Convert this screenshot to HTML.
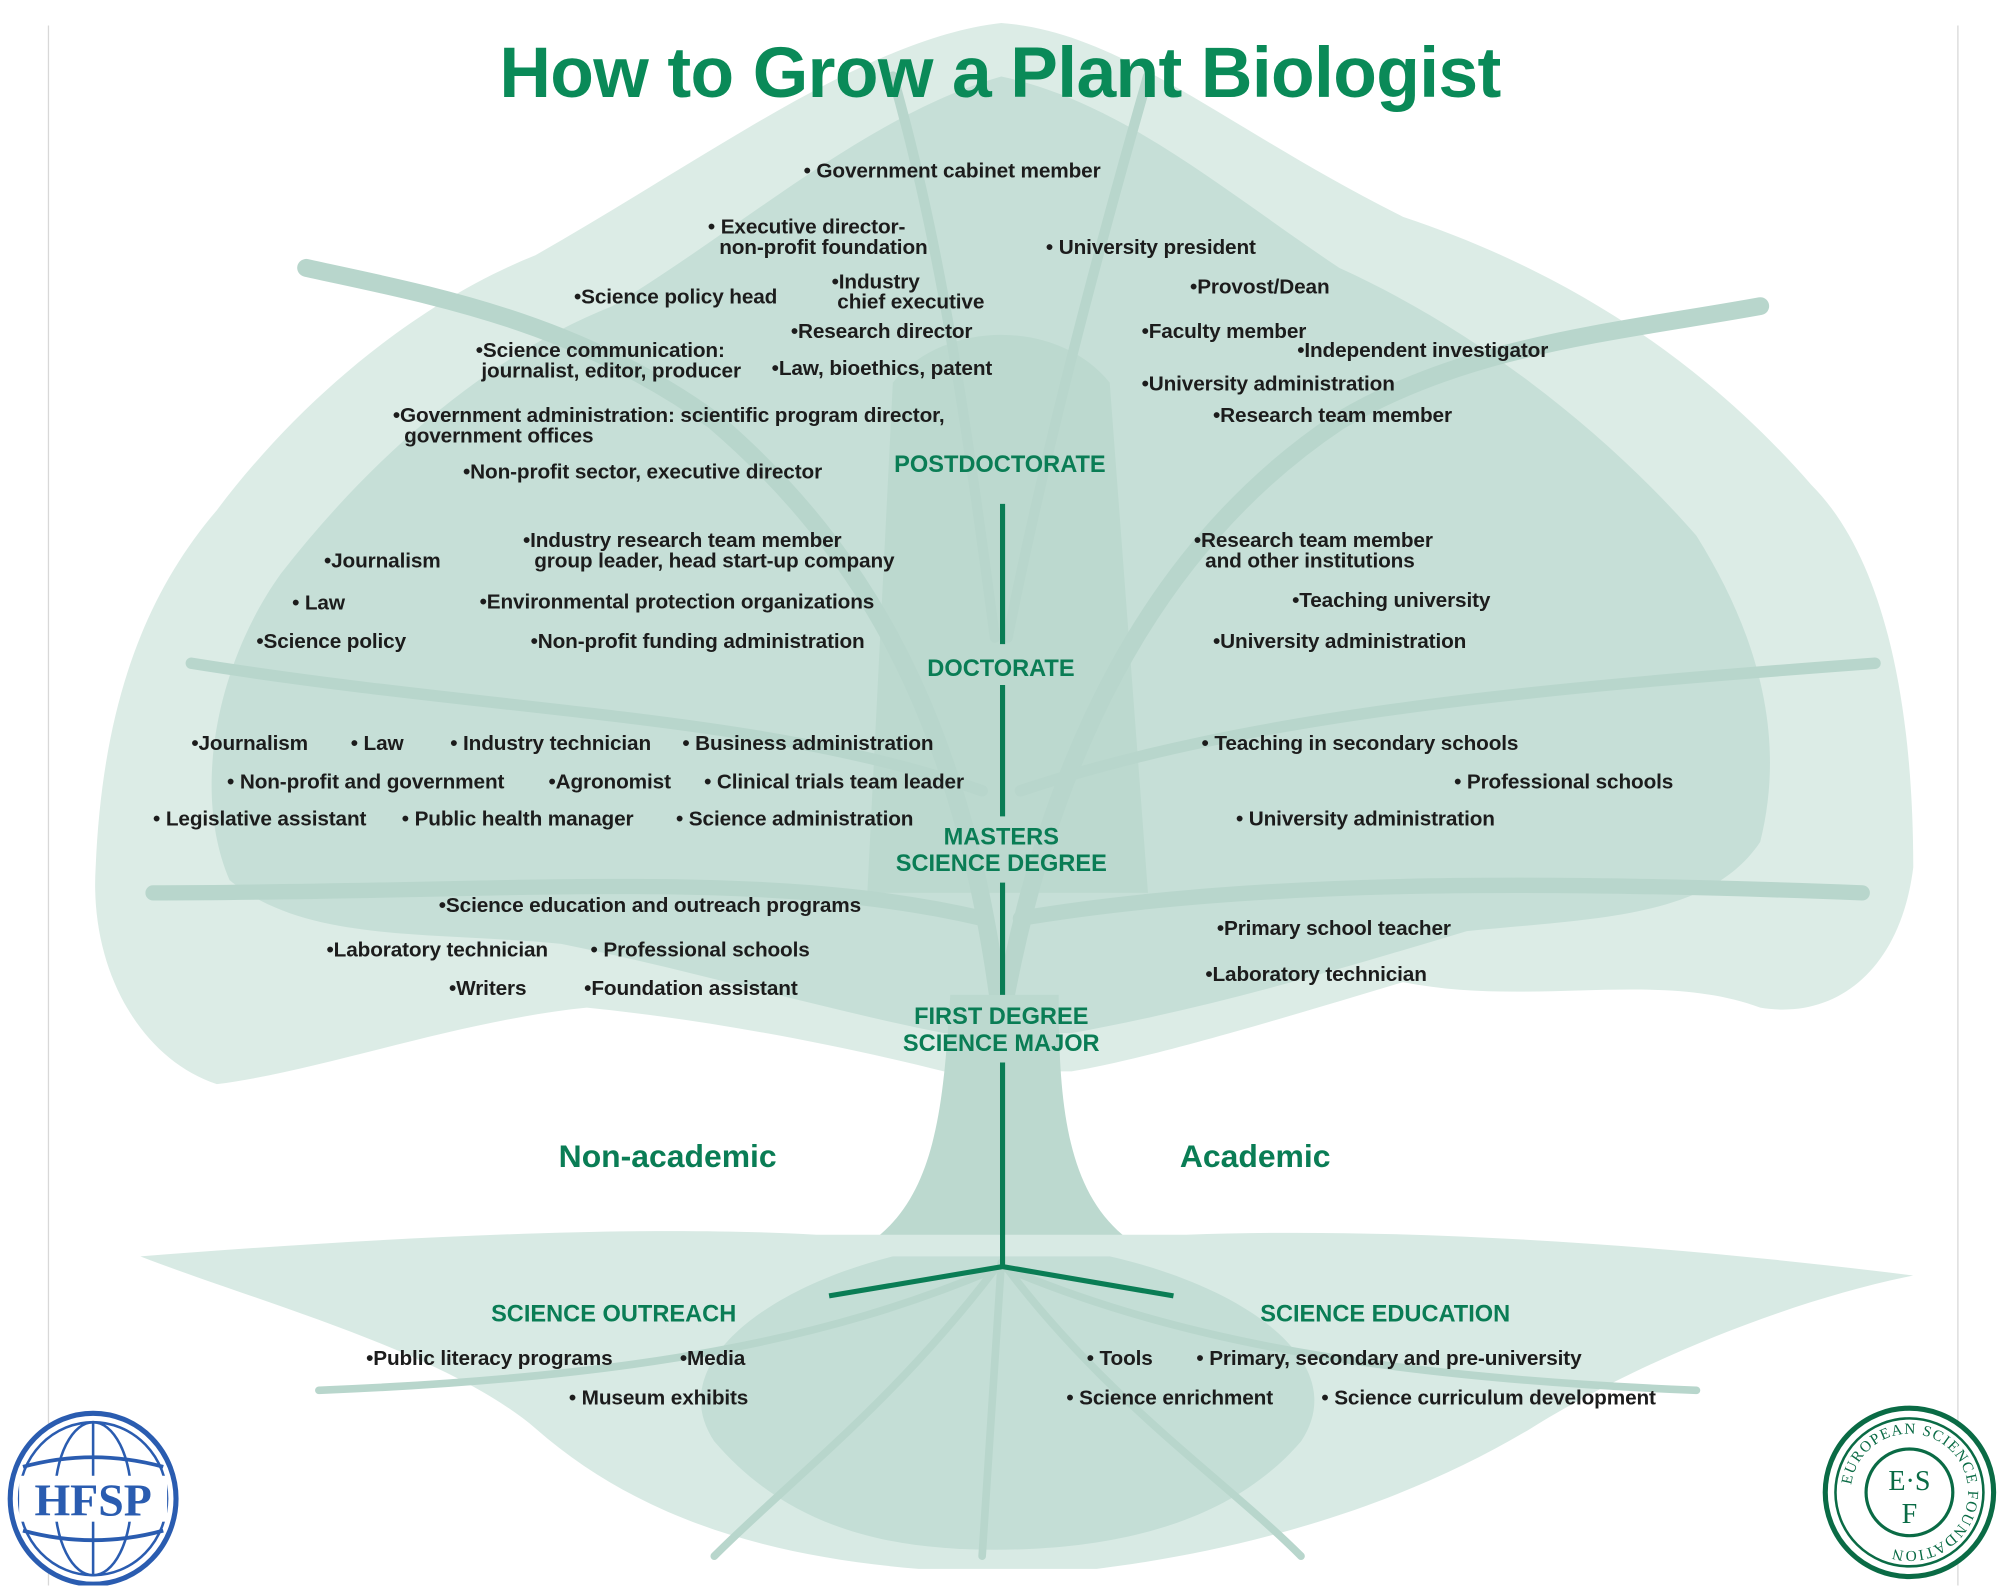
<!DOCTYPE html>
<html><head><meta charset="utf-8"><style>
html,body{margin:0;padding:0;background:#fff;}
body{width:2000px;height:1586px;overflow:hidden;position:relative;}
#w{position:absolute;left:0;top:0;width:1568px;height:1243px;transform:scale(1.27551);transform-origin:0 0;font-family:"Liberation Sans",sans-serif;}
.t{position:absolute;font-size:16.3px;font-weight:bold;color:#1c1c1c;white-space:nowrap;line-height:16px;letter-spacing:-0.1px;}
.g{position:absolute;font-size:18.5px;font-weight:bold;color:#0a7d55;white-space:nowrap;line-height:21px;text-align:center;}
svg{position:absolute;left:0;top:0;}
</style></head><body><div id="w">
<svg width="1568" height="1243" viewBox="0 0 1568 1243">
<line x1="38" y1="20" x2="38" y2="1243" stroke="#d8d8d8" stroke-width="1"/>
<line x1="1535" y1="20" x2="1535" y2="1243" stroke="#d8d8d8" stroke-width="1"/>
<path d="M785 18 C880 25 960 100 1100 170 C1250 220 1350 300 1420 380 C1480 440 1500 560 1500 680 C1490 760 1440 800 1380 790 C1300 760 1200 790 1100 770 C1000 800 900 830 840 840 L740 840 C660 820 560 800 460 790 C360 800 250 840 170 850 C110 830 70 760 75 680 C80 560 110 470 170 400 C230 320 320 240 420 200 C560 120 680 30 785 18 Z" fill="#dcece6"/>
<path d="M785 60 C880 80 960 150 1050 210 C1160 260 1260 340 1330 420 C1380 500 1400 580 1380 660 C1340 720 1250 720 1150 730 C1050 760 950 790 840 810 L740 810 C640 790 540 760 440 740 C340 730 240 740 180 690 C150 620 170 520 220 450 C290 360 380 280 480 240 C580 180 680 90 785 60 Z" fill="#c6dfd7"/>
<path d="M700 300 C740 250 830 250 870 300 L900 700 L680 700 Z" fill="#bcd9cf"/>
<g stroke="#b8d6cc" stroke-linecap="round" fill="none">
<path d="M785 800 C760 600 700 450 560 330 C450 250 330 230 240 210" stroke-width="14"/>
<path d="M785 800 C820 600 900 430 1050 330 C1150 270 1270 260 1380 240" stroke-width="14"/>
<path d="M770 720 C600 680 400 700 120 700" stroke-width="12"/>
<path d="M800 720 C980 690 1200 690 1460 700" stroke-width="12"/>
<path d="M770 620 C600 560 400 560 150 520" stroke-width="9"/>
<path d="M800 620 C980 560 1200 540 1470 520" stroke-width="9"/>
<path d="M780 500 C760 350 740 200 700 60" stroke-width="8"/>
<path d="M790 500 C820 350 860 200 900 60" stroke-width="8"/>
</g>
<path d="M745 780 L830 780 C830 860 835 930 880 968 C900 985 860 990 785 990 C710 990 670 985 690 968 C735 930 740 860 745 780 Z" fill="#bcd9cf"/>
<path d="M640 968 C500 960 300 970 110 985 C200 1020 350 1060 420 1120 C500 1190 600 1220 720 1230 L860 1230 C980 1215 1100 1180 1200 1120 C1280 1070 1400 1020 1500 1000 C1300 975 1100 962 930 968 Z" fill="#d8eae4"/>
<path d="M700 985 C600 1010 520 1070 560 1130 C620 1200 700 1215 780 1215 C860 1215 960 1200 1020 1130 C1060 1070 980 1010 870 985 Z" fill="#c4ded6"/>
<g stroke="#b8d6cc" stroke-width="6" fill="none" stroke-linecap="round">
<path d="M785 990 L770 1220"/><path d="M780 995 C650 1050 500 1080 250 1090"/><path d="M790 995 C920 1050 1080 1080 1330 1090"/><path d="M780 995 C700 1100 620 1160 560 1220"/><path d="M790 995 C870 1100 960 1160 1020 1220"/>
</g>
<g stroke="#0a7d55" stroke-width="4" fill="none">
<line x1="786" y1="395" x2="786" y2="505"/>
<line x1="786" y1="537" x2="786" y2="640"/>
<line x1="786" y1="692" x2="786" y2="780"/>
<line x1="786" y1="833" x2="786" y2="993"/>
<polyline points="650,1016 786,993 920,1016"/>
</g>
<g transform="translate(73,1175)">
<ellipse cx="0" cy="0" rx="65" ry="67" fill="#fff" stroke="#2a5cb0" stroke-width="4"/>
<ellipse cx="0" cy="0" rx="58" ry="60" fill="none" stroke="#2a5cb0" stroke-width="2"/>
<ellipse cx="0" cy="0" rx="30" ry="60" fill="none" stroke="#2a5cb0" stroke-width="2"/>
<line x1="0" y1="-60" x2="0" y2="60" stroke="#2a5cb0" stroke-width="2"/>
<path d="M-55 -25 Q0 -40 55 -25 M-55 25 Q0 40 55 25" stroke="#2a5cb0" stroke-width="3" fill="none"/>
<rect x="-58" y="-18" width="116" height="36" fill="#fff"/>
<text x="0" y="13" text-anchor="middle" font-family="Liberation Serif" font-weight="bold" font-size="36" fill="#2a5cb0">HFSP</text>
</g>
<g transform="translate(1497,1170)">
<circle r="66" fill="#fff" stroke="#0a6b45" stroke-width="4"/>
<circle r="58" fill="none" stroke="#0a6b45" stroke-width="2"/>
<circle r="34" fill="none" stroke="#0a6b45" stroke-width="2.5"/>
<defs><path id="arc" d="M-46 0 A46 46 0 1 1 46 0 A46 46 0 1 1 -46 0"/></defs>
<text font-family="Liberation Serif" font-size="12" fill="#0a6b45" letter-spacing="1"><textPath href="#arc" startOffset="2%">EUROPEAN  SCIENCE FOUNDATION</textPath></text>
<text x="0" y="-2" text-anchor="middle" font-family="Liberation Serif" font-size="22" fill="#0a6b45">E·S</text>
<text x="0" y="24" text-anchor="middle" font-family="Liberation Serif" font-size="22" fill="#0a6b45">F</text>
</g>
</svg>

<div style="position:absolute;left:0;width:1568px;top:24px;text-align:center;font-size:56px;font-weight:bold;color:#0a8a58;line-height:66px;letter-spacing:-0.5px;">How to Grow a Plant Biologist</div>

<div class="t" style="left:630px;top:126px">• Government cabinet member</div>
<div class="t" style="left:555px;top:170px">• Executive director-<br>&nbsp;&nbsp;non-profit foundation</div>
<div class="t" style="left:820px;top:186px">• University president</div>
<div class="t" style="left:652px;top:213px">•Industry<br>&nbsp;chief executive</div>
<div class="t" style="left:450px;top:225px">•Science policy head</div>
<div class="t" style="left:933px;top:217px">•Provost/Dean</div>
<div class="t" style="left:620px;top:252px">•Research director</div>
<div class="t" style="left:895px;top:252px">•Faculty member</div>
<div class="t" style="left:1017px;top:267px">•Independent investigator</div>
<div class="t" style="left:373px;top:267px">•Science communication:<br>&nbsp;journalist, editor, producer</div>
<div class="t" style="left:605px;top:281px">•Law, bioethics, patent</div>
<div class="t" style="left:895px;top:293px">•University administration</div>
<div class="t" style="left:308px;top:318px">•Government administration: scientific program director,<br>&nbsp;&nbsp;government offices</div>
<div class="t" style="left:951px;top:318px">•Research team member</div>
<div class="t" style="left:363px;top:362px">•Non-profit sector, executive director</div>
<div class="g" style="left:701px;top:353px">POSTDOCTORATE</div>
<div class="t" style="left:410px;top:416px">•Industry research team member<br>&nbsp;&nbsp;group leader, head start-up company</div>
<div class="t" style="left:936px;top:416px">•Research team member<br>&nbsp;&nbsp;and other institutions</div>
<div class="t" style="left:254px;top:432px">•Journalism</div>
<div class="t" style="left:229px;top:465px">• Law</div>
<div class="t" style="left:376px;top:464px">•Environmental protection organizations</div>
<div class="t" style="left:1013px;top:463px">•Teaching university</div>
<div class="t" style="left:201px;top:495px">•Science policy</div>
<div class="t" style="left:416px;top:495px">•Non-profit funding administration</div>
<div class="t" style="left:951px;top:495px">•University administration</div>
<div class="g" style="left:727px;top:513px">DOCTORATE</div>
<div class="t" style="left:150px;top:575px">•Journalism</div>
<div class="t" style="left:275px;top:575px">• Law</div>
<div class="t" style="left:353px;top:575px">• Industry technician</div>
<div class="t" style="left:535px;top:575px">• Business administration</div>
<div class="t" style="left:942px;top:575px">• Teaching in secondary schools</div>
<div class="t" style="left:178px;top:605px">• Non-profit and government</div>
<div class="t" style="left:430px;top:605px">•Agronomist</div>
<div class="t" style="left:552px;top:605px">• Clinical trials team leader</div>
<div class="t" style="left:1140px;top:605px">• Professional schools</div>
<div class="t" style="left:120px;top:634px">• Legislative assistant</div>
<div class="t" style="left:315px;top:634px">• Public health manager</div>
<div class="t" style="left:530px;top:634px">• Science administration</div>
<div class="t" style="left:969px;top:634px">• University administration</div>
<div class="g" style="left:702px;top:645px;width:166px">MASTERS<br>SCIENCE DEGREE</div>
<div class="t" style="left:344px;top:702px">•Science education and outreach programs</div>
<div class="t" style="left:954px;top:720px">•Primary school teacher</div>
<div class="t" style="left:256px;top:737px">•Laboratory technician</div>
<div class="t" style="left:463px;top:737px">• Professional schools</div>
<div class="t" style="left:945px;top:756px">•Laboratory technician</div>
<div class="t" style="left:352px;top:767px">•Writers</div>
<div class="t" style="left:458px;top:767px">•Foundation assistant</div>
<div class="g" style="left:702px;top:786px;width:166px">FIRST DEGREE<br>SCIENCE MAJOR</div>
<div class="g" style="left:438px;top:893px;font-size:25px;line-height:28px">Non-academic</div>
<div class="g" style="left:925px;top:893px;font-size:25px;line-height:28px">Academic</div>
<div class="g" style="left:385px;top:1019px">SCIENCE OUTREACH</div>
<div class="g" style="left:988px;top:1019px">SCIENCE EDUCATION</div>
<div class="t" style="left:287px;top:1057px">•Public literacy programs</div>
<div class="t" style="left:533px;top:1057px">•Media</div>
<div class="t" style="left:852px;top:1057px">• Tools</div>
<div class="t" style="left:938px;top:1057px">• Primary, secondary and pre-university</div>
<div class="t" style="left:446px;top:1088px">• Museum exhibits</div>
<div class="t" style="left:836px;top:1088px">• Science enrichment</div>
<div class="t" style="left:1036px;top:1088px">• Science curriculum development</div>
</div></body></html>
